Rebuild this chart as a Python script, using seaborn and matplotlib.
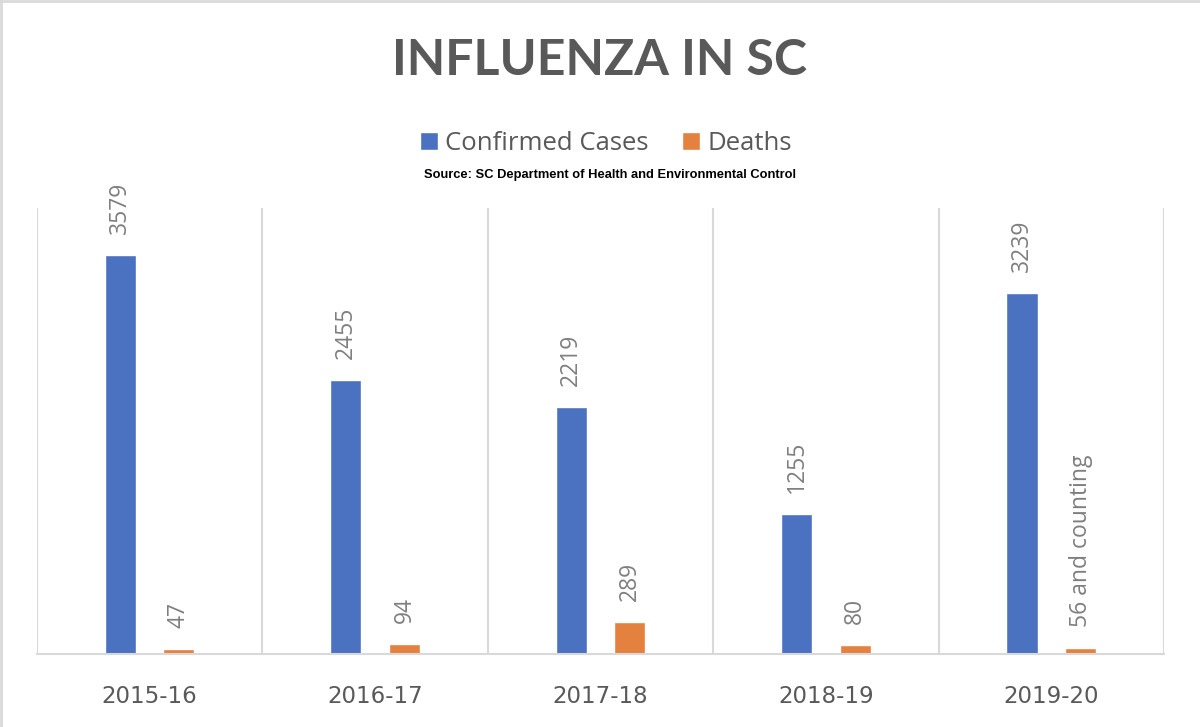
import pandas as pd
import seaborn as sns
import matplotlib.pyplot as plt
from matplotlib.patches import Patch
from matplotlib.lines import Line2D

# Dados
temporadas = ["2015-16", "2016-17", "2017-18", "2018-19", "2019-20"]
casos = [3579, 2455, 2219, 1255, 3239]
mortes = [47, 94, 289, 80, 56]
rotulos_casos = ["3579", "2455", "2219", "1255", "3239"]
rotulos_mortes = ["47", "94", "289", "80", "56 and counting"]
series = ["Confirmed Cases", "Deaths"]

azul = "#4A72C0"
laranja = "#E5813F"
cinza_txt = "#595959"
cinza_lbl = "#7F7F7F"
cinza_grade = "#D9D9D9"

df = pd.DataFrame({
    "temporada": temporadas * 2,
    "valor": casos + mortes,
    "serie": [series[0]] * len(temporadas) + [series[1]] * len(temporadas),
})

sns.set_theme(style="white")
plt.rcParams["font.family"] = ["Open Sans", "DejaVu Sans"]

fig = plt.figure(figsize=(12, 7.27), dpi=100)
ax = fig.add_axes([0.0308, 0.1004, 0.9392, 0.6135])

sns.barplot(data=df, x="temporada", y="valor", hue="serie",
            palette=[azul, laranja], width=0.52, gap=0.47,
            saturation=1, legend=False, ax=ax)

ax.set_ylim(0, 4000)
ax.set_xlim(-0.5, len(temporadas) - 0.5)
ax.set_yticks([])
ax.set_xlabel("")
ax.set_ylabel("")

# linhas verticais entre categorias
ax.set_xticks([i - 0.5 for i in range(len(temporadas) + 1)], minor=True)
ax.grid(which="minor", axis="x", color=cinza_grade, linewidth=1.5)
ax.tick_params(axis="x", which="both", length=0, pad=22)
for lbl in ax.get_xticklabels():
    lbl.set_fontsize(16.5)
    lbl.set_color(cinza_txt)
    lbl.set_family(["DejaVu Sans"])

for lado in ["top", "right", "left"]:
    ax.spines[lado].set_visible(False)
ax.spines["bottom"].set_color(cinza_grade)
ax.spines["bottom"].set_linewidth(1.5)

# rótulos das barras
for cont, rot in zip(ax.containers, [rotulos_casos, rotulos_mortes]):
    ax.bar_label(cont, labels=rot, rotation=90, padding=15,
                 fontsize=16.5, color=cinza_lbl)

# título, legenda e fonte
fig.text(0.5, 0.917, "INFLUENZA IN SC", ha="center", va="center",
         fontsize=36, fontweight="bold", color=cinza_txt, family=["Lato", "DejaVu Sans"])

handles = [Patch(facecolor=azul, label=series[0]),
           Patch(facecolor=laranja, label=series[1])]
leg = fig.legend(handles=handles, loc="center", bbox_to_anchor=(0.505, 0.803),
                 ncol=2, frameon=False, fontsize=18.5, handlelength=0.7,
                 handleheight=0.7, handletextpad=0.3, columnspacing=1.3)
for t in leg.get_texts():
    t.set_color(cinza_txt)

fig.text(0.508, 0.759, "Source: SC Department of Health and Environmental Control",
         ha="center", va="center", fontsize=9.3, fontweight="bold",
         color="black", family=["Liberation Sans", "DejaVu Sans"])

# borda do gráfico
fig.add_artist(Line2D([0.001, 0.001], [0, 1], color=cinza_grade, linewidth=2))
fig.add_artist(Line2D([0, 1], [0.999, 0.999], color=cinza_grade, linewidth=2))

fig.savefig("out.png", dpi=100, facecolor="white")
plt.close()
